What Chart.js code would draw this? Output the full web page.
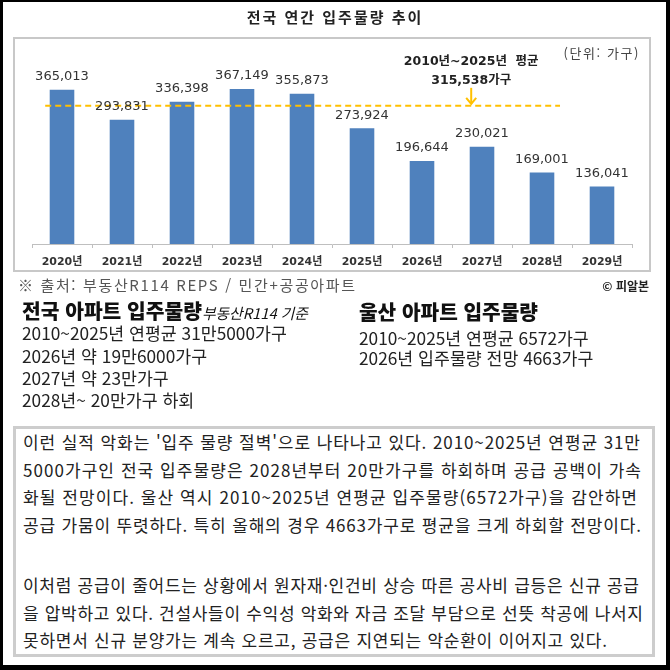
<!DOCTYPE html>
<html lang="ko">
<head>
<meta charset="utf-8">
<script src="https://cdn.jsdelivr.net/npm/chart.js@4.4.1/dist/chart.umd.min.js"></script>
<style>
html,body{margin:0;padding:0;}
body{width:670px;height:670px;background:#000;position:relative;overflow:hidden;font-family:'Noto Sans CJK KR','Noto Sans',sans-serif;color:#222;}
.abs{position:absolute;white-space:nowrap;}
#page{position:absolute;left:3px;top:2px;right:4px;bottom:5px;background:#fff;}
#chartBox{position:absolute;left:13px;top:37px;width:638px;height:235px;box-sizing:border-box;border:2px solid #c8c8c8;}
#textBox{position:absolute;left:13px;top:426px;width:642px;height:231px;box-sizing:border-box;border:3px solid #cdcdcd;}
#cv{position:absolute;left:0;top:0;}
#title{left:0;width:670px;top:7px;line-height:20px;text-align:center;font-weight:bold;font-size:15px;letter-spacing:2px;color:#222;}
#unit{right:30px;top:44px;line-height:18px;font-size:13px;color:#444;}
#src{left:18px;top:275px;line-height:20px;font-size:15px;color:#555;}
#copy{right:21px;top:277px;line-height:18px;font-size:12px;font-weight:bold;color:#222;}
.head{font-size:20px;font-weight:900;line-height:26px;color:#111;}
.head i{font-size:14.5px;font-weight:normal;}
.ln{font-size:17.3px;line-height:22px;color:#222;}
.pl{left:23px;font-size:17px;line-height:26px;color:#222;}
</style>
</head>
<body>
<div id="page"></div>
<div id="chartBox"></div>
<div id="textBox"></div>
<canvas id="cv" width="670" height="300"></canvas>

<div class="abs" id="title">전국 연간 입주물량 추이</div>
<div class="abs" id="unit" data-ls="75">(단위: 가구)</div>
<div class="abs" id="src" data-ls="337">※ 출처: 부동산R114 REPS / 민간+공공아파트</div>
<div class="abs" id="copy">© 피알본</div>

<div class="abs head" style="left:22px;top:297px;" data-fs="286">전국 아파트 입주물량<i>부동산R114 기준</i></div>
<div class="abs ln" style="left:22px;top:322px;">2010~2025년 연평균 31만5000가구</div>
<div class="abs ln" style="left:22px;top:345px;">2026년 약 19만6000가구</div>
<div class="abs ln" style="left:22px;top:367px;">2027년 약 23만가구</div>
<div class="abs ln" style="left:22px;top:389px;">2028년~ 20만가구 하회</div>

<div class="abs head" style="left:359px;top:299px;" data-fs="179">울산 아파트 입주물량</div>
<div class="abs ln" style="left:359px;top:327px;">2010~2025년 연평균 6572가구</div>
<div class="abs ln" style="left:359px;top:347px;">2026년 입주물량 전망 4663가구</div>

<div class="abs pl" style="top:429px;" data-ls="617">이런 실적 악화는 '입주 물량 절벽'으로 나타나고 있다. 2010~2025년 연평균 31만</div>
<div class="abs pl" style="top:456.5px;" data-ls="618">5000가구인 전국 입주물량은 2028년부터 20만가구를 하회하며 공급 공백이 가속</div>
<div class="abs pl" style="top:484px;" data-ls="614">화될 전망이다. 울산 역시 2010~2025년 연평균 입주물량(6572가구)을 감안하면</div>
<div class="abs pl" style="top:511.5px;" data-ls="618">공급 가뭄이 뚜렷하다. 특히 올해의 경우 4663가구로 평균을 크게 하회할 전망이다.</div>
<div class="abs pl" style="top:572px;" data-ls="616">이처럼 공급이 줄어드는 상황에서 원자재·인건비 상승 따른 공사비 급등은 신규 공급</div>
<div class="abs pl" style="top:599.5px;" data-ls="620">을 압박하고 있다. 건설사들이 수익성 악화와 자금 조달 부담으로 선뜻 착공에 나서지</div>
<div class="abs pl" style="top:627px;" data-ls="584">못하면서 신규 분양가는 계속 오르고, 공급은 지연되는 악순환이 이어지고 있다.</div>

<script>
// ---- data ----
const years = ['2020년','2021년','2022년','2023년','2024년','2025년','2026년','2027년','2028년','2029년'];
const supply = [365013, 293831, 336398, 367149, 355873, 273924, 196644, 230021, 169001, 136041];
const avgTitle = '2010년~2025년  평균';
const avgValue = 315538;          // stated average (label)
const avgLineLevel = 327000;      // level at which the dashed line is drawn in the picture
const avgLineSpan = [-0.28, 8.3]; // extent of dashed line, in category-index units
const arrowAt = 6.82;             // category-index position of the arrow / label
const yMax = 400000;

// fit text widths to the reference layout
document.querySelectorAll('[data-ls]').forEach(el => {
  const target = parseFloat(el.dataset.ls);
  el.style.letterSpacing = '0px';
  const w = el.getBoundingClientRect().width;
  const n = el.textContent.length;
  el.style.letterSpacing = ((target - w) / (n - 1)) + 'px';
});
document.querySelectorAll('[data-fs]').forEach(el => {
  const target = parseFloat(el.dataset.fs);
  const fs = parseFloat(getComputedStyle(el).fontSize);
  const w = el.getBoundingClientRect().width;
  el.style.fontSize = (fs * target / w) + 'px';
  const it = el.querySelector('i');
  if (it) it.style.fontSize = (14.5 * target / w) + 'px';
});

function fmt(v){ return String(v).replace(/\B(?=(\d{3})+(?!\d))/g, ','); }

const overlay = {
  id: 'overlay',
  afterDatasetsDraw(chart){
    const ctx = chart.ctx;
    const meta = chart.getDatasetMeta(1);
    ctx.save();
    ctx.font = "13px 'DejaVu Sans'";
    ctx.fillStyle = '#333';
    ctx.textAlign = 'center';
    ctx.textBaseline = 'middle';
    meta.data.forEach((el, i) => { ctx.fillText(fmt(supply[i]), el.x, el.y - 13); });

    const xs = chart.scales.x, ys = chart.scales.y;
    const ax = xs.getPixelForValue(arrowAt);
    const ly = ys.getPixelForValue(avgLineLevel);
    ctx.strokeStyle = '#ffc000';
    ctx.lineWidth = 2;
    ctx.beginPath(); ctx.moveTo(ax, ly - 18); ctx.lineTo(ax, ly - 2); ctx.stroke();
    ctx.beginPath(); ctx.moveTo(ax - 5, ly - 8); ctx.lineTo(ax, ly - 2); ctx.lineTo(ax + 5, ly - 8); ctx.stroke();
    ctx.font = "bold 12.5px 'DejaVu Sans','Noto Sans CJK KR'";
    ctx.fillStyle = '#222';
    ctx.fillText(avgTitle, ax, ly - 44);
    ctx.fillText(fmt(avgValue) + '가구', ax, ly - 25);
    ctx.restore();
  }
};

new Chart(document.getElementById('cv'), {
  type: 'bar',
  data: {
    labels: years,
    datasets: [
      {
        type: 'line',
        xAxisID: 'xl',
        data: [{x: avgLineSpan[0], y: avgLineLevel}, {x: avgLineSpan[1], y: avgLineLevel}],
        borderColor: '#ffc000',
        borderWidth: 2,
        borderDash: [6, 4],
        pointRadius: 0,
        fill: false,
        order: 0
      },
      {
        type: 'bar',
        xAxisID: 'x',
        data: supply,
        backgroundColor: '#4f81bd',
        grouped: false,
        categoryPercentage: 1,
        barPercentage: 0.41,
        order: 1
      }
    ]
  },
  options: {
    responsive: false,
    animation: false,
    devicePixelRatio: 1,
    layout: { padding: { left: 32, right: 38, top: 75, bottom: 28 } },
    plugins: { legend: { display: false }, tooltip: { enabled: false }, title: { display: false } },
    scales: {
      x: {
        type: 'category',
        position: 'bottom',
        grid: { display: true, drawOnChartArea: false, drawTicks: true, tickLength: 4, color: '#bfbfbf', offset: true },
        border: { display: true, color: '#bfbfbf', width: 1 },
        ticks: { color: '#333', padding: 8, maxRotation: 0, autoSkip: false,
                 font: { family: "'DejaVu Sans','Noto Sans CJK KR'", size: 11, weight: 'bold' } },
        afterFit(s){ s.height = 28; }
      },
      xl: {
        type: 'linear', axis: 'x', position: 'top', display: true, min: -0.5, max: 9.5,
        offset: false,
        grid: { display: false, drawTicks: false, offset: false }, border: { display: false },
        ticks: { display: false },
        afterFit(s){ s.height = 0; }
      },
      y: { display: false, min: 0, max: yMax }
    }
  },
  plugins: [overlay]
});
</script>
</body>
</html>
